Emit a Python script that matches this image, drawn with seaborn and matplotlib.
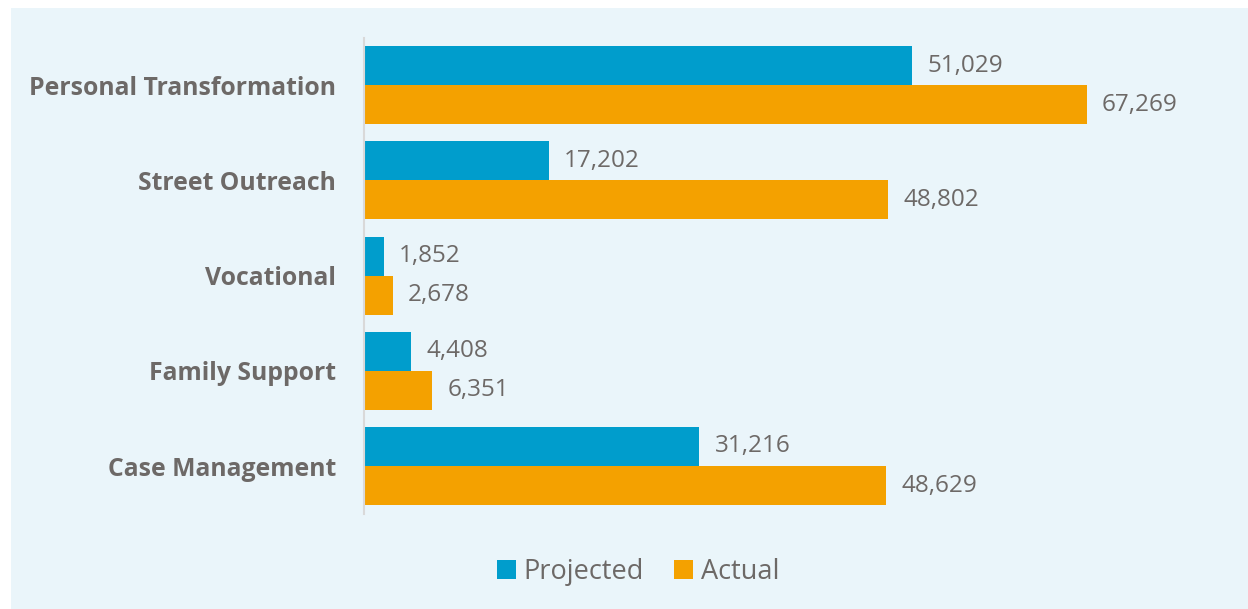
import matplotlib
matplotlib.use("Agg")
import matplotlib.pyplot as plt
import seaborn as sns
import pandas as pd
from matplotlib.patches import Rectangle

# Program reach: projected vs. actual participants
categories = ["Personal Transformation", "Street Outreach", "Vocational",
              "Family Support", "Case Management"]
projected = [51029, 17202, 1852, 4408, 31216]
actual = [67269, 48802, 2678, 6351, 48629]
series_names = ["Projected", "Actual"]

colors = {"Projected": "#009DCC", "Actual": "#F4A100"}
text_grey = "#6D6967"
panel_bg = "#EAF5FA"

df = pd.DataFrame({
    "Program": categories * 2,
    "Series": [series_names[0]] * len(categories) + [series_names[1]] * len(categories),
    "Count": projected + actual,
})

sns.set_theme(style="white")
plt.rcParams["font.family"] = ["Open Sans", "DejaVu Sans"]

fig = plt.figure(figsize=(12.48, 6.09), dpi=100)
fig.patch.set_facecolor("white")
fig.patches.append(Rectangle((11 / 1248, 0), 1 - 11 / 1248, 1 - 8 / 609,
                             transform=fig.transFigure, facecolor=panel_bg,
                             edgecolor="none", zorder=-5))

ax = fig.add_axes([364 / 1248, 1 - 513.6 / 609, 866 / 1248, 476 / 609])
ax.set_facecolor("none")

sns.barplot(data=df, y="Program", x="Count", hue="Series", orient="h",
            palette=colors, width=0.82, gap=0, ax=ax, legend=True,
            edgecolor="none", linewidth=0, saturation=1)

for cont in ax.containers:
    ax.bar_label(cont, fmt="{:,.0f}", padding=11, fontsize=17.5, color=text_grey)

ax.set_xlim(0, 80600)
ax.set_ylim(4.5, -0.5)
ax.set_xlabel("")
ax.set_ylabel("")
ax.set_xticks([])
for side in ["top", "right", "bottom"]:
    ax.spines[side].set_visible(False)
ax.spines["left"].set_color("#D9D9D9")
ax.spines["left"].set_linewidth(1.5)
ax.tick_params(axis="y", length=0, pad=20)
for lab in ax.get_yticklabels():
    lab.set_fontsize(17.8)
    lab.set_fontweight("bold")
    lab.set_color(text_grey)

handles, labels = ax.get_legend_handles_labels()
ax.legend_.remove()
fig.legend(handles, labels, loc="center", bbox_to_anchor=(638 / 1248, 1 - 572 / 609),
           ncol=2, frameon=False, fontsize=19.5, labelcolor=text_grey,
           handlelength=0.7, handleheight=0.7, handletextpad=0.3,
           columnspacing=1.1)

fig.savefig("out.png", dpi=100)
